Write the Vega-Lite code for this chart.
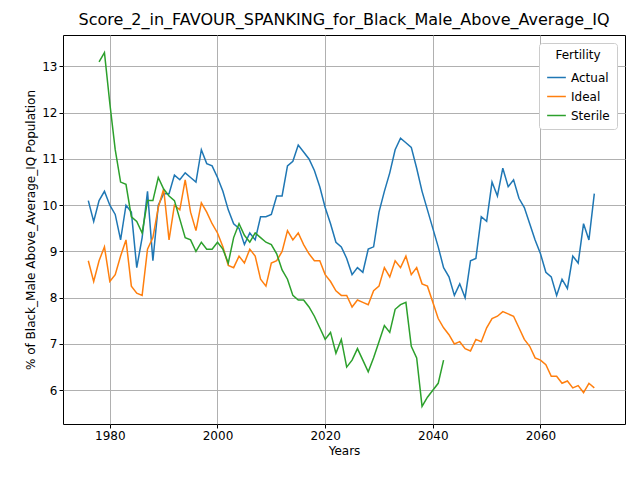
{
  "$schema": "https://vega.github.io/schema/vega-lite/v6.json",
  "autosize": "none",
  "padding": {"left": 63, "top": 35, "right": 15, "bottom": 56},
  "width": 562,
  "height": 389,
  "background": "white",
  "config": {
    "font": "DejaVu Sans",
    "view": {"stroke": "black", "strokeWidth": 1},
    "axis": {"grid": true, "gridColor": "#b0b0b0", "gridWidth": 1, "gridOpacity": 1, "domain": false, "tickColor": "black", "tickSize": 4, "labelColor": "black", "labelFontSize": 12, "titleFontSize": 12, "titleFontWeight": "normal", "labelFont": "DejaVu Sans", "titleFont": "DejaVu Sans", "titleColor": "black"}
  },
  "title": {"text": "Score_2_in_FAVOUR_SPANKING_for_Black_Male_Above_Average_IQ", "fontSize": 16, "fontWeight": "normal", "font": "DejaVu Sans", "offset": 7},
  "data": {"values": [
    {"year":1976,"s":"Actual","v":10.1},{"year":1977,"s":"Actual","v":9.65},{"year":1978,"s":"Actual","v":10.1},{"year":1979,"s":"Actual","v":10.3},{"year":1980,"s":"Actual","v":10.0},{"year":1981,"s":"Actual","v":9.8},{"year":1982,"s":"Actual","v":9.25},{"year":1983,"s":"Actual","v":10.0},{"year":1984,"s":"Actual","v":9.85},{"year":1985,"s":"Actual","v":8.65},{"year":1986,"s":"Actual","v":9.3},{"year":1987,"s":"Actual","v":10.3},{"year":1988,"s":"Actual","v":8.8},{"year":1989,"s":"Actual","v":10.0},{"year":1990,"s":"Actual","v":10.25},{"year":1991,"s":"Actual","v":10.25},{"year":1992,"s":"Actual","v":10.65},{"year":1993,"s":"Actual","v":10.55},{"year":1994,"s":"Actual","v":10.7},{"year":1995,"s":"Actual","v":10.6},{"year":1996,"s":"Actual","v":10.5},{"year":1997,"s":"Actual","v":11.2},{"year":1998,"s":"Actual","v":10.9},{"year":1999,"s":"Actual","v":10.85},{"year":2000,"s":"Actual","v":10.6},{"year":2001,"s":"Actual","v":10.3},{"year":2002,"s":"Actual","v":9.9},{"year":2003,"s":"Actual","v":9.6},{"year":2004,"s":"Actual","v":9.5},{"year":2005,"s":"Actual","v":9.15},{"year":2006,"s":"Actual","v":9.4},{"year":2007,"s":"Actual","v":9.25},{"year":2008,"s":"Actual","v":9.75},{"year":2009,"s":"Actual","v":9.75},{"year":2010,"s":"Actual","v":9.8},{"year":2011,"s":"Actual","v":10.2},{"year":2012,"s":"Actual","v":10.2},{"year":2013,"s":"Actual","v":10.85},{"year":2014,"s":"Actual","v":10.95},{"year":2015,"s":"Actual","v":11.3},{"year":2016,"s":"Actual","v":11.15},{"year":2017,"s":"Actual","v":11.0},{"year":2018,"s":"Actual","v":10.75},{"year":2019,"s":"Actual","v":10.4},{"year":2020,"s":"Actual","v":9.95},{"year":2021,"s":"Actual","v":9.6},{"year":2022,"s":"Actual","v":9.2},{"year":2023,"s":"Actual","v":9.1},{"year":2024,"s":"Actual","v":8.85},{"year":2025,"s":"Actual","v":8.5},{"year":2026,"s":"Actual","v":8.65},{"year":2027,"s":"Actual","v":8.55},{"year":2028,"s":"Actual","v":9.05},{"year":2029,"s":"Actual","v":9.1},{"year":2030,"s":"Actual","v":9.85},{"year":2031,"s":"Actual","v":10.3},{"year":2032,"s":"Actual","v":10.7},{"year":2033,"s":"Actual","v":11.2},{"year":2034,"s":"Actual","v":11.45},{"year":2035,"s":"Actual","v":11.35},{"year":2036,"s":"Actual","v":11.25},{"year":2037,"s":"Actual","v":10.8},{"year":2038,"s":"Actual","v":10.3},{"year":2039,"s":"Actual","v":9.9},{"year":2040,"s":"Actual","v":9.5},{"year":2041,"s":"Actual","v":9.1},{"year":2042,"s":"Actual","v":8.65},{"year":2043,"s":"Actual","v":8.45},{"year":2044,"s":"Actual","v":8.05},{"year":2045,"s":"Actual","v":8.3},{"year":2046,"s":"Actual","v":8.0},{"year":2047,"s":"Actual","v":8.8},{"year":2048,"s":"Actual","v":8.85},{"year":2049,"s":"Actual","v":9.75},{"year":2050,"s":"Actual","v":9.65},{"year":2051,"s":"Actual","v":10.5},{"year":2052,"s":"Actual","v":10.2},{"year":2053,"s":"Actual","v":10.8},{"year":2054,"s":"Actual","v":10.4},{"year":2055,"s":"Actual","v":10.55},{"year":2056,"s":"Actual","v":10.15},{"year":2057,"s":"Actual","v":9.95},{"year":2058,"s":"Actual","v":9.6},{"year":2059,"s":"Actual","v":9.25},{"year":2060,"s":"Actual","v":8.95},{"year":2061,"s":"Actual","v":8.55},{"year":2062,"s":"Actual","v":8.45},{"year":2063,"s":"Actual","v":8.05},{"year":2064,"s":"Actual","v":8.4},{"year":2065,"s":"Actual","v":8.2},{"year":2066,"s":"Actual","v":8.9},{"year":2067,"s":"Actual","v":8.75},{"year":2068,"s":"Actual","v":9.6},{"year":2069,"s":"Actual","v":9.25},{"year":2070,"s":"Actual","v":10.25},
    {"year":1976,"s":"Ideal","v":8.8},{"year":1977,"s":"Ideal","v":8.35},{"year":1978,"s":"Ideal","v":8.8},{"year":1979,"s":"Ideal","v":9.1},{"year":1980,"s":"Ideal","v":8.35},{"year":1981,"s":"Ideal","v":8.5},{"year":1982,"s":"Ideal","v":8.9},{"year":1983,"s":"Ideal","v":9.25},{"year":1984,"s":"Ideal","v":8.25},{"year":1985,"s":"Ideal","v":8.1},{"year":1986,"s":"Ideal","v":8.05},{"year":1987,"s":"Ideal","v":9.05},{"year":1988,"s":"Ideal","v":9.3},{"year":1989,"s":"Ideal","v":9.95},{"year":1990,"s":"Ideal","v":10.35},{"year":1991,"s":"Ideal","v":9.25},{"year":1992,"s":"Ideal","v":10.0},{"year":1993,"s":"Ideal","v":9.9},{"year":1994,"s":"Ideal","v":10.55},{"year":1995,"s":"Ideal","v":9.85},{"year":1996,"s":"Ideal","v":9.45},{"year":1997,"s":"Ideal","v":10.05},{"year":1998,"s":"Ideal","v":9.85},{"year":1999,"s":"Ideal","v":9.6},{"year":2000,"s":"Ideal","v":9.4},{"year":2001,"s":"Ideal","v":9.1},{"year":2002,"s":"Ideal","v":8.7},{"year":2003,"s":"Ideal","v":8.65},{"year":2004,"s":"Ideal","v":8.9},{"year":2005,"s":"Ideal","v":8.75},{"year":2006,"s":"Ideal","v":9.05},{"year":2007,"s":"Ideal","v":8.9},{"year":2008,"s":"Ideal","v":8.4},{"year":2009,"s":"Ideal","v":8.25},{"year":2010,"s":"Ideal","v":8.75},{"year":2011,"s":"Ideal","v":8.8},{"year":2012,"s":"Ideal","v":9.0},{"year":2013,"s":"Ideal","v":9.45},{"year":2014,"s":"Ideal","v":9.25},{"year":2015,"s":"Ideal","v":9.4},{"year":2016,"s":"Ideal","v":9.15},{"year":2017,"s":"Ideal","v":8.95},{"year":2018,"s":"Ideal","v":8.8},{"year":2019,"s":"Ideal","v":8.8},{"year":2020,"s":"Ideal","v":8.5},{"year":2021,"s":"Ideal","v":8.35},{"year":2022,"s":"Ideal","v":8.15},{"year":2023,"s":"Ideal","v":8.05},{"year":2024,"s":"Ideal","v":8.05},{"year":2025,"s":"Ideal","v":7.8},{"year":2026,"s":"Ideal","v":7.95},{"year":2027,"s":"Ideal","v":7.9},{"year":2028,"s":"Ideal","v":7.85},{"year":2029,"s":"Ideal","v":8.15},{"year":2030,"s":"Ideal","v":8.25},{"year":2031,"s":"Ideal","v":8.65},{"year":2032,"s":"Ideal","v":8.45},{"year":2033,"s":"Ideal","v":8.8},{"year":2034,"s":"Ideal","v":8.65},{"year":2035,"s":"Ideal","v":8.9},{"year":2036,"s":"Ideal","v":8.5},{"year":2037,"s":"Ideal","v":8.65},{"year":2038,"s":"Ideal","v":8.3},{"year":2039,"s":"Ideal","v":8.25},{"year":2040,"s":"Ideal","v":7.9},{"year":2041,"s":"Ideal","v":7.55},{"year":2042,"s":"Ideal","v":7.35},{"year":2043,"s":"Ideal","v":7.2},{"year":2044,"s":"Ideal","v":7.0},{"year":2045,"s":"Ideal","v":7.05},{"year":2046,"s":"Ideal","v":6.9},{"year":2047,"s":"Ideal","v":6.85},{"year":2048,"s":"Ideal","v":7.1},{"year":2049,"s":"Ideal","v":7.05},{"year":2050,"s":"Ideal","v":7.35},{"year":2051,"s":"Ideal","v":7.55},{"year":2052,"s":"Ideal","v":7.6},{"year":2053,"s":"Ideal","v":7.7},{"year":2054,"s":"Ideal","v":7.65},{"year":2055,"s":"Ideal","v":7.6},{"year":2056,"s":"Ideal","v":7.35},{"year":2057,"s":"Ideal","v":7.1},{"year":2058,"s":"Ideal","v":6.95},{"year":2059,"s":"Ideal","v":6.7},{"year":2060,"s":"Ideal","v":6.65},{"year":2061,"s":"Ideal","v":6.55},{"year":2062,"s":"Ideal","v":6.3},{"year":2063,"s":"Ideal","v":6.3},{"year":2064,"s":"Ideal","v":6.15},{"year":2065,"s":"Ideal","v":6.2},{"year":2066,"s":"Ideal","v":6.05},{"year":2067,"s":"Ideal","v":6.1},{"year":2068,"s":"Ideal","v":5.95},{"year":2069,"s":"Ideal","v":6.15},{"year":2070,"s":"Ideal","v":6.05},
    {"year":1978,"s":"Sterile","v":13.1},{"year":1979,"s":"Sterile","v":13.3},{"year":1980,"s":"Sterile","v":12.2},{"year":1981,"s":"Sterile","v":11.2},{"year":1982,"s":"Sterile","v":10.5},{"year":1983,"s":"Sterile","v":10.45},{"year":1984,"s":"Sterile","v":9.75},{"year":1985,"s":"Sterile","v":9.65},{"year":1986,"s":"Sterile","v":9.4},{"year":1987,"s":"Sterile","v":10.1},{"year":1988,"s":"Sterile","v":10.1},{"year":1989,"s":"Sterile","v":10.6},{"year":1990,"s":"Sterile","v":10.35},{"year":1991,"s":"Sterile","v":10.2},{"year":1992,"s":"Sterile","v":10.1},{"year":1993,"s":"Sterile","v":9.7},{"year":1994,"s":"Sterile","v":9.3},{"year":1995,"s":"Sterile","v":9.25},{"year":1996,"s":"Sterile","v":9.0},{"year":1997,"s":"Sterile","v":9.2},{"year":1998,"s":"Sterile","v":9.05},{"year":1999,"s":"Sterile","v":9.05},{"year":2000,"s":"Sterile","v":9.2},{"year":2001,"s":"Sterile","v":9.05},{"year":2002,"s":"Sterile","v":8.75},{"year":2003,"s":"Sterile","v":9.3},{"year":2004,"s":"Sterile","v":9.6},{"year":2005,"s":"Sterile","v":9.35},{"year":2006,"s":"Sterile","v":9.2},{"year":2007,"s":"Sterile","v":9.4},{"year":2008,"s":"Sterile","v":9.3},{"year":2009,"s":"Sterile","v":9.2},{"year":2010,"s":"Sterile","v":9.15},{"year":2011,"s":"Sterile","v":8.95},{"year":2012,"s":"Sterile","v":8.6},{"year":2013,"s":"Sterile","v":8.4},{"year":2014,"s":"Sterile","v":8.05},{"year":2015,"s":"Sterile","v":7.95},{"year":2016,"s":"Sterile","v":7.95},{"year":2017,"s":"Sterile","v":7.8},{"year":2018,"s":"Sterile","v":7.6},{"year":2019,"s":"Sterile","v":7.35},{"year":2020,"s":"Sterile","v":7.1},{"year":2021,"s":"Sterile","v":7.25},{"year":2022,"s":"Sterile","v":6.8},{"year":2023,"s":"Sterile","v":7.1},{"year":2024,"s":"Sterile","v":6.5},{"year":2025,"s":"Sterile","v":6.65},{"year":2026,"s":"Sterile","v":6.9},{"year":2027,"s":"Sterile","v":6.65},{"year":2028,"s":"Sterile","v":6.4},{"year":2029,"s":"Sterile","v":6.7},{"year":2030,"s":"Sterile","v":7.05},{"year":2031,"s":"Sterile","v":7.4},{"year":2032,"s":"Sterile","v":7.25},{"year":2033,"s":"Sterile","v":7.75},{"year":2034,"s":"Sterile","v":7.85},{"year":2035,"s":"Sterile","v":7.9},{"year":2036,"s":"Sterile","v":6.95},{"year":2037,"s":"Sterile","v":6.7},{"year":2038,"s":"Sterile","v":5.65},{"year":2039,"s":"Sterile","v":5.85},{"year":2040,"s":"Sterile","v":6.0},{"year":2041,"s":"Sterile","v":6.15},{"year":2042,"s":"Sterile","v":6.65}
  ]},
  "mark": {"type": "line", "strokeWidth": 1.5, "clip": true},
  "encoding": {
    "x": {"field": "year", "type": "quantitative", "title": "Years",
      "scale": {"domain": [1971.3, 2075.7], "nice": false, "zero": false},
      "axis": {"grid": true, "values": [1980, 2000, 2020, 2040, 2060], "format": "d", "labelFlush": false}},
    "y": {"field": "v", "type": "quantitative", "title": "% of Black_Male Above_Average_IQ Population",
      "scale": {"domain": [5.27, 13.68], "nice": false, "zero": false},
      "axis": {"grid": true, "values": [6, 7, 8, 9, 10, 11, 12, 13], "labelFlush": false}},
    "color": {"field": "s", "type": "nominal", "title": "Fertility",
      "scale": {"domain": ["Actual", "Ideal", "Sterile"], "range": ["#1f77b4", "#ff7f0e", "#2ca02c"]},
      "legend": {"orient": "top-right", "symbolType": "stroke", "symbolStrokeWidth": 1.5, "symbolSize": 350, "labelFontSize": 12, "titleFontSize": 12, "titleFontWeight": "normal", "titleAnchor": "middle", "labelColor": "black", "titleColor": "black", "fillColor": "white", "strokeColor": "#cccccc", "padding": 7, "cornerRadius": 3, "offset": 8}}
  }
}
